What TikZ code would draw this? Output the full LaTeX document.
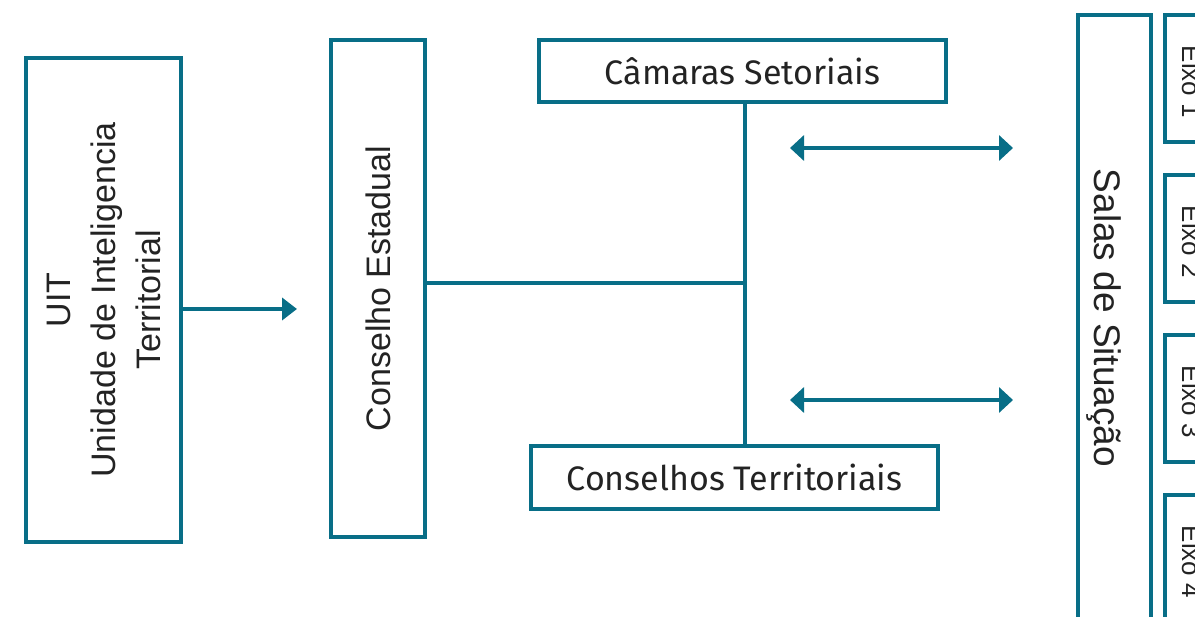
\documentclass[tikz,border=0pt]{standalone}
\usepackage{fontspec}
\setmainfont{Liberation Sans}
\newfontfamily\firafont{Fira Sans}
\usetikzlibrary{arrows.meta}
\definecolor{petrol}{RGB}{8,110,135}
\definecolor{ink}{RGB}{35,35,35}

\begin{document}
\begin{tikzpicture}[x=1pt,y=-1pt,
	box/.style={draw=petrol, line width=4pt, inner sep=0pt, text=ink},
	vbox/.style={box, rotate=90, align=center, font=\fontsize{34}{45}\selectfont},
	hbox/.style={box, font=\firafont\fontsize{34}{38}\selectfont},
	eixo/.style={rotate=-90, text=ink, font=\fontsize{26}{30}\selectfont},
	link/.style={petrol, line width=4pt},
	oneway/.style={link, -{Triangle[length=15pt,width=22pt]}},
	twoway/.style={link, {Triangle[length=14pt,width=25pt]}-{Triangle[length=14pt,width=25pt]}}]

	\useasboundingbox (0,0) rectangle (1195,617);
	\clip (0,0) rectangle (1195,617);

	\node[vbox, minimum width=484pt, minimum height=155pt] (uit) at (103.5,300) {UIT\\Unidade de Inteligencia\\Territorial};
	\node[vbox, minimum width=497pt, minimum height=94pt] (ce) at (378,288.5) {Conselho Estadual};
	\node[hbox, minimum width=407pt, minimum height=62pt] (cam) at (742.5,71) {Câmaras Setoriais};
	\node[hbox, minimum width=407pt, minimum height=63pt] (cter) at (734.5,477.5) {Conselhos Territoriais};

	\node[box, minimum width=73pt, minimum height=700pt] (salas) at (1114,365) {};
	\node[rotate=-90, text=ink, font=\fontsize{37}{42}\selectfont] (salastxt) at (1104,318) {Salas de Situação};

	\foreach \k in {1,...,4}
		\node[box, minimum width=70pt, minimum height=127pt] (eixobox\k) at (1200,{78.5+160*(\k-1)}) {};
	\foreach \k in {1,...,4}
		\node[eixo, anchor=base] (eixo\k) at (1182,{82+160*(\k-1)}) {Eixo \k};

	\coordinate (jn) at (745,283);
	\coordinate (uitend) at (297,309);
	\coordinate (la1) at (790,148);
	\coordinate (ra1) at (1013,148);
	\coordinate (la2) at (790,400);
	\coordinate (ra2) at (1013,400);

	\draw[link] (jn |- cam.south) -- (jn |- cter.north);
	\draw[link] (jn -| ce.south) -- (jn);
	\draw[oneway] (uitend -| uit.south) -- (uitend);
	\draw[twoway] (la1) -- (ra1);
	\draw[twoway] (la2) -- (ra2);

\end{tikzpicture}
\end{document}
